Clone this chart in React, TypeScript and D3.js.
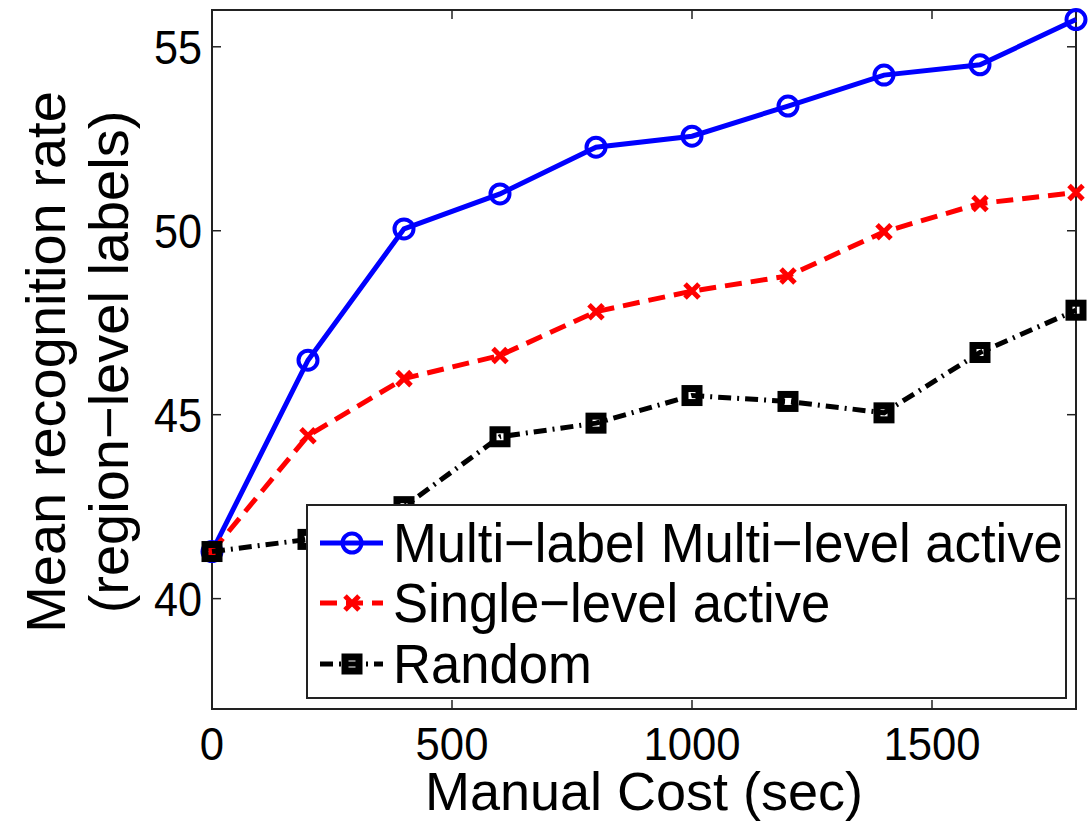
import React from 'react';
import * as d3 from 'd3';

// manual cost (sec) at which each run was measured
const costs = [0, 200, 400, 600, 800, 1000, 1200, 1400, 1600, 1800];
// mean recognition rate
const multiLevel = [41.28, 46.48, 50.05, 51.0, 52.27, 52.57, 53.39, 54.23, 54.51, 55.74];
const singleLevel = [41.28, 44.43, 45.98, 46.61, 47.8, 48.36, 48.77, 49.97, 50.74, 51.04];
const randomSel = [41.28, 41.61, 42.5, 44.4, 44.77, 45.52, 45.36, 45.05, 46.69, 47.84];

const xTicks = [0, 500, 1000, 1500];
const yTicks = [40, 45, 50, 55];
const seriesNames = ['Multi−label Multi−level active', 'Single−level active', 'Random'];

const FONT = '"Liberation Sans", Arial, Helvetica, sans-serif';

const Marker = ({ kind, cx, cy, color }: { kind: string; cx: number; cy: number; color: string }) => {
  if (kind === 'circle')
    return <circle cx={cx} cy={cy} r={9.5} fill="none" stroke={color} strokeWidth={4} />;
  if (kind === 'x') {
    const s = 7;
    return (
      <path
        d={`M${cx - s},${cy - s}L${cx + s},${cy + s}M${cx - s},${cy + s}L${cx + s},${cy - s}`}
        stroke={color}
        strokeWidth={5}
        fill="none"
      />
    );
  }
  return <rect x={cx - 7} y={cy - 7} width={14} height={14} fill="none" stroke={color} strokeWidth={7} />;
};

const App = () => {
  const width = 1092, height = 823;
  const x = d3.scaleLinear().domain([0, 1800]).range([212, 1076]);
  const y = d3.scaleLinear().domain([37, 56]).range([709, 10]);

  const series = [
    { name: seriesNames[0], values: multiLevel, color: '#0000ff', dash: 'none', marker: 'circle' },
    { name: seriesNames[1], values: singleLevel, color: '#ff0000', dash: '17 9', marker: 'x' },
    { name: seriesNames[2], values: randomSel, color: '#000000', dash: '13 6 2 6', marker: 'square' },
  ];

  const line = d3.line<number>()
    .x((_, i) => x(costs[i]))
    .y(d => y(d));

  const [x0, x1] = x.range();
  const [y0, y1] = y.range();
  const tick = 9;

  // legend box
  const lg = { left: 307, top: 505, right: 1066, bottom: 698 };
  const rowBase = [562, 622, 683];

  return (
    <svg width={width} height={height} style={{ position: 'absolute', left: 0, top: 0, background: '#fff' }} fontFamily={FONT}>
      {/* axes box */}
      <rect x={x0} y={y1} width={x1 - x0} height={y0 - y1} fill="none" stroke="#222" strokeWidth={2} />

      {/* ticks, mirrored on all sides */}
      {xTicks.map(t => (
        <g key={'xt' + t} stroke="#222" strokeWidth={1.5}>
          <line x1={x(t)} x2={x(t)} y1={y0} y2={y0 - tick} />
          <line x1={x(t)} x2={x(t)} y1={y1} y2={y1 + tick} />
        </g>
      ))}
      {yTicks.map(t => (
        <g key={'yt' + t} stroke="#222" strokeWidth={1.5}>
          <line x1={x0} x2={x0 + tick} y1={y(t)} y2={y(t)} />
          <line x1={x1} x2={x1 - tick} y1={y(t)} y2={y(t)} />
        </g>
      ))}

      {/* tick labels */}
      {xTicks.map(t => (
        <text key={'xl' + t} transform={`translate(${x(t)},760) scale(0.95,1)`} textAnchor="middle" fontSize={46} fill="#000">{t}</text>
      ))}
      {yTicks.map(t => (
        <text key={'yl' + t} transform={`translate(202,${y(t)}) scale(0.9,1)`} dy="0.36em" textAnchor="end" fontSize={48} fill="#000">{t}</text>
      ))}

      {/* axis titles */}
      <text x={(x0 + x1) / 2} y={810} textAnchor="middle" fontSize={54} fill="#000">Manual Cost (sec)</text>
      <g transform="translate(65,362) rotate(-90)">
        <text x={0} y={0} textAnchor="middle" fontSize={56} fill="#000">Mean recognition rate</text>
        <text x={0} y={63} textAnchor="middle" fontSize={56} fill="#000">(region−level labels)</text>
      </g>

      {/* series */}
      {series.map(s => (
        <g key={s.name}>
          <path d={line(s.values) || ''} fill="none" stroke={s.color} strokeWidth={5} strokeDasharray={s.dash} />
          {s.values.map((v, i) => (
            <Marker key={i} kind={s.marker} cx={x(costs[i])} cy={y(v)} color={s.color} />
          ))}
        </g>
      ))}

      {/* legend */}
      <rect x={lg.left} y={lg.top} width={lg.right - lg.left} height={lg.bottom - lg.top} fill="#fff" stroke="#222" strokeWidth={2} />
      {series.map((s, i) => {
        const cy = rowBase[i] - 19;
        return (
          <g key={'lg' + i}>
            <line x1={320} x2={383} y1={cy} y2={cy} stroke={s.color} strokeWidth={5} strokeDasharray={s.dash} />
            <Marker kind={s.marker} cx={352} cy={cy} color={s.color} />
            <text transform={`translate(393,${rowBase[i]}) scale(0.94,1)`} fontSize={56} fill="#000">{s.name}</text>
          </g>
        );
      })}
    </svg>
  );
};

export default App;
